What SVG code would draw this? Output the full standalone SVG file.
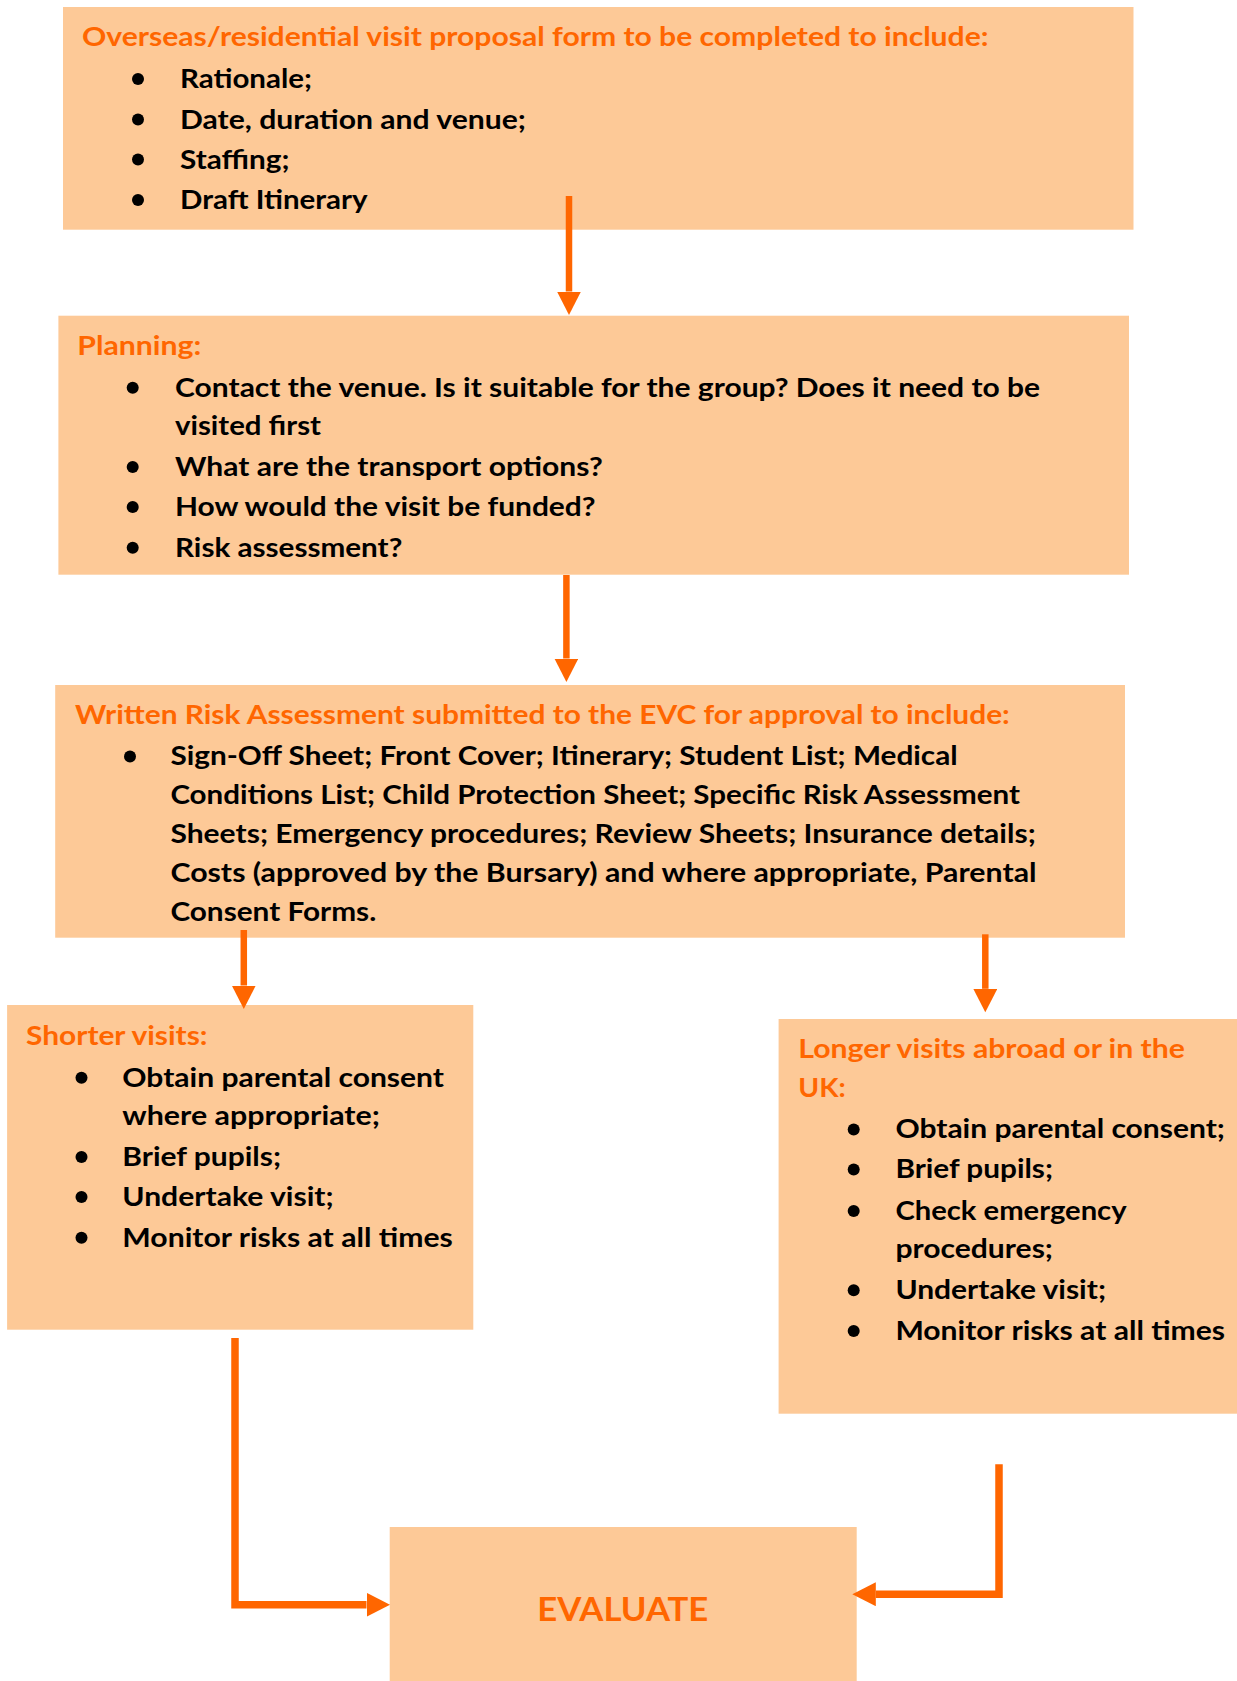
<svg xmlns="http://www.w3.org/2000/svg" width="1237" height="1681" viewBox="0 0 1237 1681">
<style>
.box{fill:#FDC997}
.t{font-family:Lato,"Open Sans","Liberation Sans",sans-serif;font-weight:700;font-size:26.5px;fill:#000}
.h{fill:#FF6600}
.ev{font-size:31.7px}
.b{fill:#000}
.con{fill:none;stroke:#FF6600;stroke-linejoin:miter;stroke-linecap:butt}
</style>
<defs>
<marker id="ah" markerUnits="userSpaceOnUse" markerWidth="24" markerHeight="24" refX="0" refY="12" orient="auto" viewBox="0 0 24 24">
<path d="M0,0 L23.5,12 L0,24 z" fill="#FF6600"/>
</marker>
</defs>
<rect width="1237" height="1681" fill="#fff"/>

<g id="node-proposal">
<rect class="box" x="63" y="7" width="1070.5" height="222.7"/>
<text class="t h" x="82" y="46" textLength="906.5" lengthAdjust="spacingAndGlyphs">Overseas/residential visit proposal form to be completed to include:</text>
<circle class="b" cx="138" cy="79" r="6"/>
<text class="t" x="180" y="88" textLength="132" lengthAdjust="spacingAndGlyphs">Rationale;</text>
<circle class="b" cx="138" cy="119.5" r="6"/>
<text class="t" x="180" y="128.5" textLength="346" lengthAdjust="spacingAndGlyphs">Date, duration and venue;</text>
<circle class="b" cx="138" cy="159.5" r="6"/>
<text class="t" x="180" y="168.5" textLength="109.5" lengthAdjust="spacingAndGlyphs">Staffing;</text>
<circle class="b" cx="138" cy="200" r="6"/>
<text class="t" x="180" y="209" textLength="187.6" lengthAdjust="spacingAndGlyphs">Draft Itinerary</text>
</g>

<g id="node-planning">
<rect class="box" x="58.4" y="315.7" width="1070.6" height="259"/>
<text class="t h" x="77.3" y="355" textLength="124" lengthAdjust="spacingAndGlyphs">Planning:</text>
<circle class="b" cx="132.7" cy="387.7" r="6"/>
<text class="t" x="175" y="396.7" textLength="865" lengthAdjust="spacingAndGlyphs">Contact the venue. Is it suitable for the group? Does it need to be</text>
<text class="t" x="175" y="435" textLength="146" lengthAdjust="spacingAndGlyphs">visited first</text>
<circle class="b" cx="132.7" cy="467" r="6"/>
<text class="t" x="175" y="476" textLength="427.7" lengthAdjust="spacingAndGlyphs">What are the transport options?</text>
<circle class="b" cx="132.7" cy="507" r="6"/>
<text class="t" x="175" y="516" textLength="420.6" lengthAdjust="spacingAndGlyphs">How would the visit be funded?</text>
<circle class="b" cx="132.7" cy="547.7" r="6"/>
<text class="t" x="175" y="556.7" textLength="227.3" lengthAdjust="spacingAndGlyphs">Risk assessment?</text>
</g>

<g id="node-risk-assessment">
<rect class="box" x="55.2" y="685" width="1069.8" height="252.7"/>
<text class="t h" x="75" y="724" textLength="934.8" lengthAdjust="spacingAndGlyphs">Written Risk Assessment submitted to the EVC for approval to include:</text>
<circle class="b" cx="130" cy="756.5" r="6"/>
<text class="t" x="170.4" y="765" textLength="787.3" lengthAdjust="spacingAndGlyphs">Sign-Off Sheet; Front Cover; Itinerary; Student List; Medical</text>
<text class="t" x="170.4" y="804" textLength="849.6" lengthAdjust="spacingAndGlyphs">Conditions List; Child Protection Sheet; Specific Risk Assessment</text>
<text class="t" x="170.4" y="843.3" textLength="865.4" lengthAdjust="spacingAndGlyphs">Sheets; Emergency procedures; Review Sheets; Insurance details;</text>
<text class="t" x="170.4" y="882.3" textLength="866.2" lengthAdjust="spacingAndGlyphs">Costs (approved by the Bursary) and where appropriate, Parental</text>
<text class="t" x="170.4" y="920.7" textLength="205.9" lengthAdjust="spacingAndGlyphs">Consent Forms.</text>
</g>

<g id="node-shorter">
<rect class="box" x="7.1" y="1005" width="466.2" height="324.7"/>
<text class="t h" x="26" y="1045" textLength="181.5" lengthAdjust="spacingAndGlyphs">Shorter visits:</text>
<circle class="b" cx="81.5" cy="1077.7" r="6"/>
<text class="t" x="122.3" y="1086.7" textLength="321.7" lengthAdjust="spacingAndGlyphs">Obtain parental consent</text>
<text class="t" x="122.3" y="1125" textLength="257.7" lengthAdjust="spacingAndGlyphs">where appropriate;</text>
<circle class="b" cx="81.5" cy="1157" r="6"/>
<text class="t" x="122.3" y="1166" textLength="158.7" lengthAdjust="spacingAndGlyphs">Brief pupils;</text>
<circle class="b" cx="81.5" cy="1197" r="6"/>
<text class="t" x="122.3" y="1206" textLength="211.4" lengthAdjust="spacingAndGlyphs">Undertake visit;</text>
<circle class="b" cx="81.5" cy="1237.7" r="6"/>
<text class="t" x="122.3" y="1246.7" textLength="330.5" lengthAdjust="spacingAndGlyphs">Monitor risks at all times</text>
</g>

<g id="node-longer">
<rect class="box" x="778.6" y="1019" width="458.4" height="394.7"/>
<text class="t h" x="798.3" y="1058.3" textLength="386.7" lengthAdjust="spacingAndGlyphs">Longer visits abroad or in the</text>
<text class="t h" x="798.3" y="1096.7" textLength="47.4" lengthAdjust="spacingAndGlyphs">UK:</text>
<circle class="b" cx="853.7" cy="1129.5" r="6"/>
<text class="t" x="895.4" y="1138.3" textLength="329.6" lengthAdjust="spacingAndGlyphs">Obtain parental consent;</text>
<circle class="b" cx="853.7" cy="1169.5" r="6"/>
<text class="t" x="895.4" y="1178.3" textLength="157.6" lengthAdjust="spacingAndGlyphs">Brief pupils;</text>
<circle class="b" cx="853.7" cy="1211" r="6"/>
<text class="t" x="895.4" y="1220" textLength="231.2" lengthAdjust="spacingAndGlyphs">Check emergency</text>
<text class="t" x="895.4" y="1258.3" textLength="157.6" lengthAdjust="spacingAndGlyphs">procedures;</text>
<circle class="b" cx="853.7" cy="1290.3" r="6"/>
<text class="t" x="895.4" y="1299.3" textLength="210.6" lengthAdjust="spacingAndGlyphs">Undertake visit;</text>
<circle class="b" cx="853.7" cy="1331" r="6"/>
<text class="t" x="895.4" y="1340" textLength="329.6" lengthAdjust="spacingAndGlyphs">Monitor risks at all times</text>
</g>

<g id="node-evaluate">
<rect class="box" x="389.7" y="1527" width="467" height="154"/>
<text class="t h ev" x="537.3" y="1621" textLength="171" lengthAdjust="spacingAndGlyphs">EVALUATE</text>
</g>

<g id="connectors">
<path class="con" stroke-width="6.5" d="M569,196 V291.5" marker-end="url(#ah)"/>
<path class="con" stroke-width="6.5" d="M566.4,575 V658.5" marker-end="url(#ah)"/>
<path class="con" stroke-width="6.5" d="M243.8,930 V985.5" marker-end="url(#ah)"/>
<path class="con" stroke-width="6.5" d="M985.3,934.3 V988.8" marker-end="url(#ah)"/>
<path class="con" stroke-width="7.5" d="M235,1338 V1604.7 H366.5" marker-end="url(#ah)"/>
<path class="con" stroke-width="7.5" d="M999,1464.3 V1594.2 H875.8" marker-end="url(#ah)"/>
</g>
</svg>
